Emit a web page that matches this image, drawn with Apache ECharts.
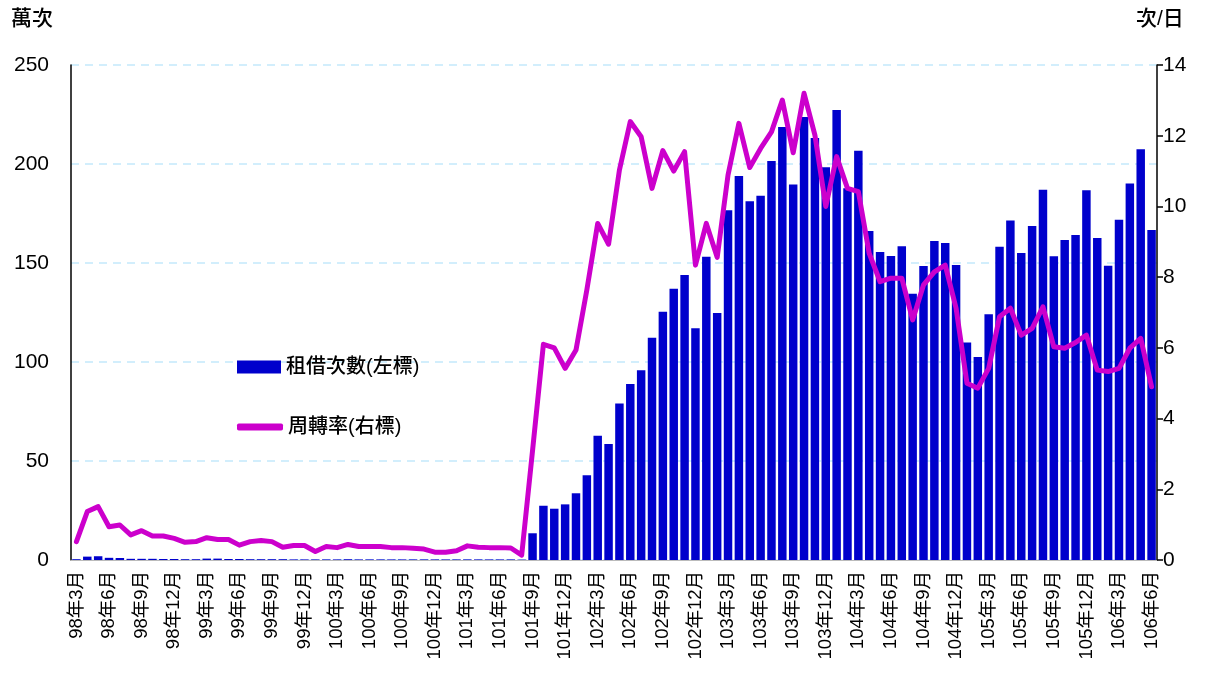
<!DOCTYPE html>
<html>
<head>
<meta charset="utf-8">
<script src="https://cdn.jsdelivr.net/npm/echarts@6/dist/echarts.min.js"></script>
<style>
  html, body { margin: 0; padding: 0; background: #fff; }
  #chart { width: 1211px; height: 677px; }
</style>
</head>
<body>
<div id="chart"></div>
<script>
// 月份: 98年3月 ~ 106年6月
var months = [];
for (var y = 98; y <= 106; y++) {
  for (var m = 1; m <= 12; m++) {
    if (y == 98 && m < 3) continue;
    if (y == 106 && m > 6) break;
    months.push(y + '年' + m + '月');
  }
}

// 租借次數 (萬次, 左標)
var rentals = [
  0.4, 1.7, 1.9, 1.1, 1.0, 0.6, 0.6, 0.6, 0.5, 0.5,
  0.4, 0.4, 0.7, 0.7, 0.5, 0.5, 0.4, 0.4, 0.4, 0.4,
  0.3, 0.3, 0.3, 0.3, 0.3, 0.4, 0.3, 0.3, 0.3, 0.3,
  0.3, 0.3, 0.3, 0.3, 0.3, 0.3, 0.3, 0.3, 0.3, 0.3,
  0.3, 0.2, 13.5, 27.4, 25.9, 28.1, 33.7, 42.8, 62.8, 58.6,
  79.1, 88.9, 95.8, 112.3, 125.4, 137.0, 143.9, 117.0, 153.2, 124.7,
  176.6, 193.9, 181.2, 184.0, 201.5, 218.7, 189.6, 223.7, 213.1, 198.3,
  227.3, 187.7, 206.7, 166.2, 155.6, 153.5, 158.4, 134.5, 148.5, 161.1,
  160.1, 149.0, 109.9, 102.5, 124.1, 158.2, 171.5, 155.1, 168.7, 187.0,
  153.4, 161.6, 164.1, 186.7, 162.6, 148.6, 171.9, 190.2, 207.4, 166.7
];

// 周轉率 (次/日, 右標)
var turnover = [
  0.52, 1.37, 1.51, 0.94, 0.99, 0.71, 0.83, 0.68, 0.68, 0.61,
  0.50, 0.52, 0.63, 0.58, 0.58, 0.42, 0.52, 0.55, 0.52, 0.36,
  0.41, 0.41, 0.24, 0.38, 0.35, 0.44, 0.38, 0.38, 0.38, 0.35,
  0.35, 0.33, 0.31, 0.22, 0.22, 0.26, 0.40, 0.36, 0.35, 0.35,
  0.34, 0.14, 3.1, 6.1, 6.0, 5.42, 5.94, 7.64, 9.52, 8.93,
  11.03, 12.4, 11.97, 10.51, 11.58, 11.0, 11.55, 8.34, 9.52, 8.56,
  10.89, 12.35, 11.1, 11.64, 12.11, 13.01, 11.52, 13.2, 12.02, 10.0,
  11.41, 10.51, 10.42, 8.67, 7.87, 7.97, 7.97, 6.79, 7.78, 8.15,
  8.34, 7.12, 5.0, 4.86, 5.42, 6.88, 7.12, 6.36, 6.55, 7.16,
  6.03, 5.99, 6.15, 6.36, 5.37, 5.33, 5.42, 5.99, 6.27, 4.9
];

var leftTicks = [0, 50, 100, 150, 200, 250];
var rightTicks = [0, 2, 4, 6, 8, 10, 12, 14];

var numFont = 'Liberation Sans, Arial, sans-serif';
var cjkFont = 'Liberation Sans, "Noto Sans CJK TC", sans-serif';

var myChart = echarts.init(document.getElementById('chart'));
var option = {
  animation: false,
  grid: { left: 71, right: 54, top: 65, bottom: 117 },
  graphic: [
    { type: 'text', left: 11, top: 9,
      style: { text: '萬次', font: '500 21px ' + cjkFont, fill: '#000' } },
    { type: 'text', left: 1136, top: 9,
      style: { text: '次/日', font: '500 21px ' + cjkFont, fill: '#000' } }
  ],
  legend: [{
    left: 232, top: 352,
    itemWidth: 44, itemHeight: 13, itemGap: 10,
    icon: 'rect',
    textStyle: { fontSize: 20, fontWeight: 500, color: '#000', fontFamily: cjkFont },
    data: ['租借次數(左標)']
  }, {
    left: 232, top: 412,
    itemWidth: 46, itemHeight: 7, itemGap: 10,
    icon: 'roundRect',
    textStyle: { fontSize: 20, fontWeight: 500, color: '#000', fontFamily: cjkFont },
    data: ['周轉率(右標)']
  }],
  xAxis: {
    type: 'category',
    data: months,
    axisLine: { lineStyle: { color: '#bbbbbb', width: 1 } },
    axisTick: { show: false },
    axisLabel: {
      interval: 2, rotate: 90, margin: 11,
      fontSize: 18.5, color: '#000', fontFamily: cjkFont
    }
  },
  yAxis: [{
    type: 'value',
    min: leftTicks[0], max: leftTicks[leftTicks.length - 1], interval: 50,
    axisLine: { show: true, lineStyle: { color: '#000', width: 1.5 } },
    axisTick: { show: false },
    axisLabel: { fontSize: 21, color: '#000', margin: 22, fontFamily: numFont },
    splitLine: { show: true, lineStyle: { color: '#c4e9fb', type: [8, 6], width: 1.5 } }
  }, {
    type: 'value',
    min: rightTicks[0], max: rightTicks[rightTicks.length - 1], interval: 2,
    position: 'right',
    axisLine: { show: true, lineStyle: { color: '#000', width: 1.5 } },
    axisTick: { show: true, length: 6, lineStyle: { color: '#000', width: 1.5 } },
    axisLabel: { fontSize: 21, color: '#000', margin: 6, fontFamily: numFont },
    splitLine: { show: false }
  }],
  series: [{
    name: '租借次數(左標)',
    type: 'bar',
    data: rentals,
    barCategoryGap: '22%',
    itemStyle: { color: '#0000cc' },
    z: 2
  }, {
    name: '周轉率(右標)',
    type: 'line',
    yAxisIndex: 1,
    data: turnover,
    symbol: 'none',
    lineStyle: { color: '#cc00cc', width: 5, join: 'round', cap: 'round' },
    itemStyle: { color: '#cc00cc' },
    z: 3
  }]
};
myChart.setOption(option);
</script>
</body>
</html>
